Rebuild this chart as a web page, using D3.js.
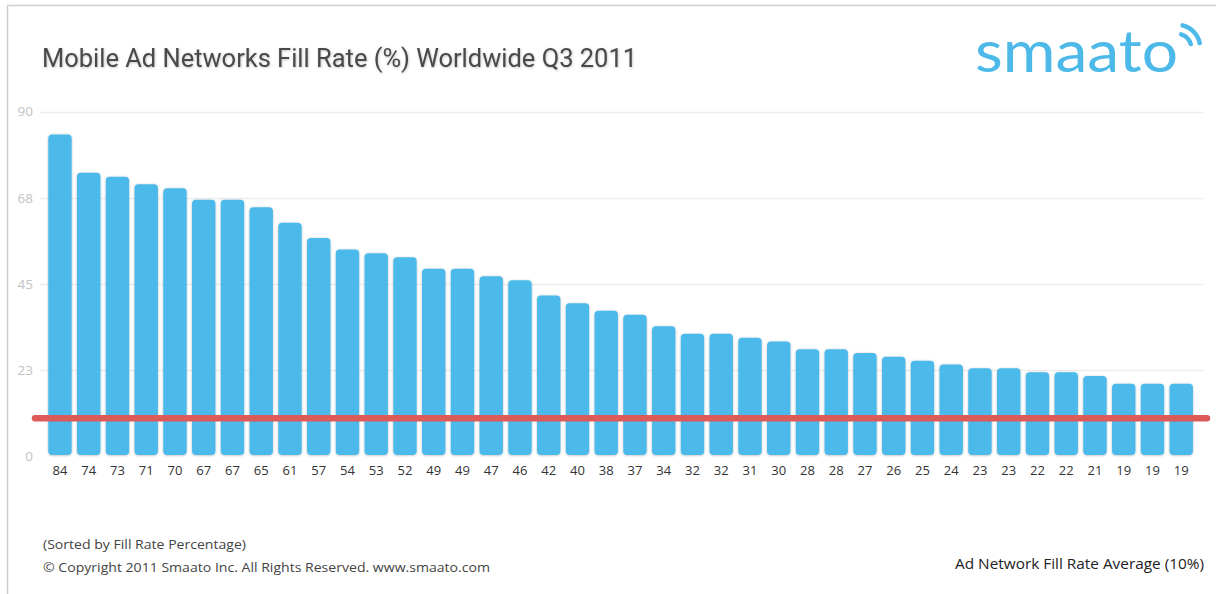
<!DOCTYPE html>
<html>
<head>
<meta charset="utf-8">
<script src="https://cdn.jsdelivr.net/npm/d3@7"></script>
<style>
  html, body { margin: 0; padding: 0; background: #fff; }
  svg { display: block; }
</style>
</head>
<body>
<svg id="chart" width="1216" height="594"></svg>
<script>
// Fill rate (%) per ad network, sorted descending
const fillRates = [84, 74, 73, 71, 70, 67, 67, 65, 61, 57, 54, 53, 52, 49, 49, 47, 46, 42, 40, 38,
                   37, 34, 32, 32, 31, 30, 28, 28, 27, 26, 25, 24, 23, 23, 22, 22, 21, 19, 19, 19];
const networkIndex = fillRates.map((d, i) => i);
const yTicks = [22.5, 45, 67.5, 90];
const yTickLabels = ["23", "45", "68", "90"];
const zeroLabel = "0";
const averageRate = 10;

const titleText = "Mobile Ad Networks Fill Rate (%) Worldwide Q3 2011";
const noteText = "(Sorted by Fill Rate Percentage)";
const copyrightText = "\u00A9 Copyright 2011 Smaato Inc. All Rights Reserved. www.smaato.com";
const legendText = "Ad Network Fill Rate Average (10%)";
const brandText = "smaato";

const svg = d3.select("#chart");
const blue = "#4cb9e9";

const defs = svg.append("defs");
const shadow = defs.append("filter").attr("id", "barShadow")
  .attr("x", "-20%").attr("y", "-10%").attr("width", "140%").attr("height", "120%");
shadow.append("feDropShadow").attr("dx", 0).attr("dy", 0.5)
  .attr("stdDeviation", 0.9).attr("flood-color", "#000").attr("flood-opacity", 0.28);
const tshadow = defs.append("filter").attr("id", "titleShadow");
tshadow.append("feDropShadow").attr("dx", 0.6).attr("dy", 0.8)
  .attr("stdDeviation", 0.8).attr("flood-color", "#000").attr("flood-opacity", 0.25);

// frame
svg.append("line").attr("x1", 7).attr("x2", 1216).attr("y1", 5.5).attr("y2", 5.5)
  .attr("stroke", "#cfcfcf").attr("stroke-width", 1.5);
svg.append("line").attr("x1", 7.5).attr("x2", 7.5).attr("y1", 5).attr("y2", 594)
  .attr("stroke", "#cfcfcf").attr("stroke-width", 1.5);

// scales
const x = d3.scaleBand().domain(networkIndex).range([45.4, 1195.8])
  .paddingInner(0.186).paddingOuter(0.1);
const y = d3.scaleLinear().domain([0, 90]).range([456.5, 111.5]);

// gridlines
svg.append("g").selectAll("line").data(yTicks).join("line")
  .attr("x1", 40).attr("x2", 1204)
  .attr("y1", d => Math.round(y(d)) + 0.5).attr("y2", d => Math.round(y(d)) + 0.5)
  .attr("stroke", "#ededed").attr("stroke-width", 1.5);

// y axis labels
const yAxis = d3.axisLeft(y).tickValues([0].concat(yTicks))
  .tickFormat((d, i) => i === 0 ? zeroLabel : yTickLabels[i - 1])
  .tickSize(0).tickPadding(0);
const yg = svg.append("g").attr("transform", "translate(33,0)").call(yAxis);
yg.select(".domain").remove();
yg.selectAll("text").attr("font-family", "Open Sans").attr("font-size", 13.5)
  .attr("fill", "#c2c2c2");

// bars
const base = y(0) - 1.5;
svg.append("g").attr("filter", "url(#barShadow)").selectAll("rect").data(fillRates).join("rect")
  .attr("x", (d, i) => x(i)).attr("width", x.bandwidth())
  .attr("y", d => y(d)).attr("height", d => base - y(d))
  .attr("rx", 4).attr("ry", 4)
  .attr("fill", blue);

// bar value labels
const xAxis = d3.axisBottom(x).tickFormat(i => fillRates[i]).tickSize(0).tickPadding(0);
const xg = svg.append("g").attr("transform", "translate(0,466)").call(xAxis);
xg.select(".domain").remove();
xg.selectAll("text").attr("font-family", "Open Sans").attr("font-size", 13)
  .attr("fill", "#333");

// average line
svg.append("line").attr("x1", 35).attr("x2", 1207)
  .attr("y1", y(averageRate)).attr("y2", y(averageRate))
  .attr("stroke", "#dc5b59").attr("stroke-width", 6.5).attr("stroke-linecap", "round");

// title
svg.append("text").attr("x", 42).attr("y", 67)
  .attr("font-family", "Roboto").attr("font-size", 26).attr("fill", "#4a4a4a")
  .attr("textLength", 595).attr("lengthAdjust", "spacingAndGlyphs")
  .attr("filter", "url(#titleShadow)")
  .text(titleText);

// brand mark
svg.append("text").attr("x", 975).attr("y", 72)
  .attr("font-family", "Lato").attr("font-size", 58).attr("fill", blue)
  .attr("textLength", 203).attr("lengthAdjust", "spacingAndGlyphs")
  .text(brandText);
const waves = d3.arc().startAngle(0.15).endAngle(1.45).cornerRadius(2);
[[12, 16.5], [21, 25.5]].forEach(([r0, r1]) => {
  svg.append("path").attr("transform", "translate(1177,48)")
    .attr("d", waves({innerRadius: r0, outerRadius: r1}))
    .attr("fill", blue);
});

// footer notes
svg.append("text").attr("x", 43).attr("y", 549)
  .attr("font-family", "Open Sans").attr("font-size", 13).attr("fill", "#444")
  .attr("textLength", 203).attr("lengthAdjust", "spacingAndGlyphs")
  .text(noteText);
svg.append("text").attr("x", 43).attr("y", 572)
  .attr("font-family", "Open Sans").attr("font-size", 13).attr("fill", "#444")
  .attr("textLength", 447).attr("lengthAdjust", "spacingAndGlyphs")
  .text(copyrightText);
svg.append("text").attr("x", 1204).attr("y", 569).attr("text-anchor", "end")
  .attr("font-family", "Open Sans").attr("font-size", 14).attr("fill", "#222")
  .attr("textLength", 249).attr("lengthAdjust", "spacingAndGlyphs")
  .text(legendText);
</script>
</body>
</html>
